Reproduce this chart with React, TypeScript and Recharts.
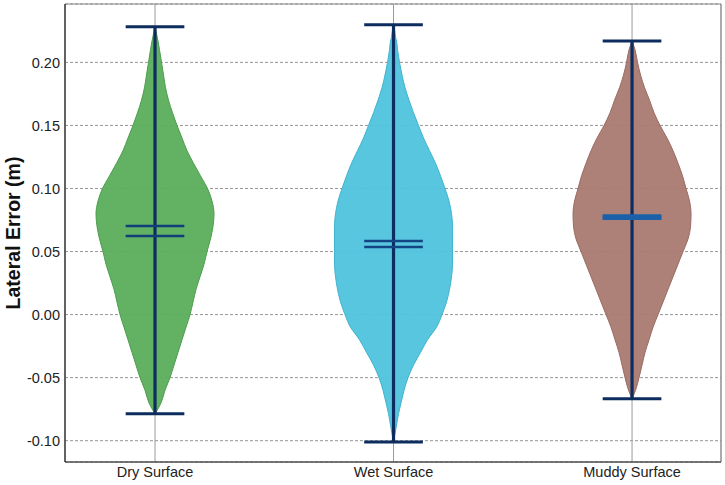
import React from 'react';
import {
  ComposedChart,
  Area,
  XAxis,
  YAxis,
  CartesianGrid,
  ReferenceLine,
  ReferenceArea,
  Label,
} from 'recharts';

// ---- data ----
const categories = ['Dry Surface', 'Wet Surface', 'Muddy Surface'];
const positions = [1, 2, 3];
const yTicks = [-0.1, -0.05, 0, 0.05, 0.1, 0.15, 0.2];

// values at which the violin densities were read
const valueGrid = [
  -0.101, -0.09, -0.0786, -0.07, -0.0667, -0.06, -0.05, -0.04, -0.03, -0.02, -0.01,
  0.0, 0.01, 0.02, 0.03, 0.04, 0.05, 0.06, 0.07, 0.08, 0.09, 0.1, 0.11, 0.12, 0.13,
  0.14, 0.15, 0.16, 0.17, 0.18, 0.19, 0.2, 0.21, 0.217, 0.22, 0.2283, 0.2299,
];

// relative kernel density (half widths), null = outside data range
const dryDensity = [
  null, null, 0, 6, 7.5, 10, 15, 19, 23, 27, 31,
  35, 38, 41, 45, 49, 52, 55.5, 58, 59, 57, 52.5, 45.5, 38.5, 32,
  27, 22, 17.5, 13.5, 10.5, 8.5, 6.5, 4.5, 3, 2.2, 0, null,
];
const wetDensity = [
  0, 2.5, 5, 7.5, 8.5, 10.5, 14.5, 20, 27, 34, 43,
  48.5, 53, 56, 58, 59, 59, 59, 59, 58, 55.5, 51.5, 47, 42, 36,
  30, 25, 20, 15.5, 11.5, 8.5, 6, 4, 3, 2, 0.6, 0,
];
const muddyDensity = [
  null, null, null, null, 0, 3.5, 7, 10, 13, 17, 21,
  26, 31, 36, 41, 46, 51, 56, 58.5, 59, 57.5, 54, 50.5, 46, 41,
  35, 28, 22, 17.5, 12.5, 8.5, 5.5, 3, 0, null, null, null,
];

const mins = [-0.0786, -0.101, -0.0667];
const maxs = [0.2283, 0.2299, 0.217];
const means = [0.0703, 0.0584, 0.0775];
const medians = [0.0623, 0.0536, 0.0769];

// ---- styles ----
const X_DOMAIN: [number, number] = [0.6226, 3.373];
const Y_DOMAIN: [number, number] = [-0.1169, 0.2463];
const WIDTH_SCALE = 1 / 238.5;
const CAP_HALF = 0.123;
const fills = ['#5bae5b', '#4fc3dd', '#a97a71'];
const edges = ['#4b9d4b', '#40b3cd', '#9a6b63'];
const LINE = '#0c2d5e';
const STAT_COLORS = ['#123f7c', '#124682', '#1b60a8'];
const STAT_WIDTHS = [2.6, 2.6, 5];

const densities = [dryDensity, wetDensity, muddyDensity];
const keys = ['dry', 'wet', 'muddy'];

const violinData = densities.map((d, k) =>
  valueGrid
    .map((v, i) => ({ v, w: d[i] }))
    .filter((r) => r.w != null)
    .map((r) => ({
      v: r.v,
      [keys[k]]: [
        positions[k] - (r.w as number) * WIDTH_SCALE,
        positions[k] + (r.w as number) * WIDTH_SCALE,
      ],
    }))
);

export default function App() {
  return (
    <div
      style={{
        position: 'absolute',
        left: 0,
        top: 0,
        width: 725,
        height: 485,
        background: '#fff',
        fontFamily: '"Liberation Sans", Arial, Helvetica, sans-serif',
      }}
    >
      <ComposedChart
        width={725}
        height={485}
        layout="vertical"
        margin={{ top: 4, right: 4, bottom: 0, left: 0 }}
      >
        <CartesianGrid
          horizontal={true}
          vertical={false}
          stroke="#8a8a8a"
          strokeDasharray="3 2"
          strokeWidth={0.9}
        />
        <CartesianGrid horizontal={false} vertical={true} stroke="#9a9a9a" strokeWidth={1} />
        <XAxis
          type="number"
          domain={X_DOMAIN}
          allowDataOverflow
          ticks={positions}
          tickFormatter={(v: number) => categories[positions.indexOf(v)] ?? ''}
          tickLine={false}
          tickSize={0}
          tickMargin={5}
          height={23}
          axisLine={{ stroke: '#333', strokeWidth: 1.2 }}
          tick={{ fontSize: 14.5, fill: '#222' }}
          interval={0}
        />
        <YAxis
          type="number"
          dataKey="v"
          domain={Y_DOMAIN}
          allowDataOverflow
          reversed
          ticks={yTicks}
          tickFormatter={(v: number) => v.toFixed(2)}
          tickLine={false}
          tickSize={0}
          tickMargin={5}
          width={65}
          axisLine={{ stroke: '#333', strokeWidth: 1.2 }}
          tick={{ fontSize: 14.5, fill: '#222' }}
          interval={0}
        >
          <Label
            value="Lateral Error (m)"
            angle={-90}
            position="center"
            dx={-19.5}
            style={{ fontSize: 19.5, fontWeight: 'bold', fill: '#111' }}
          />
        </YAxis>
        <ReferenceArea
          x1={X_DOMAIN[0]}
          x2={X_DOMAIN[1]}
          y1={Y_DOMAIN[0]}
          y2={Y_DOMAIN[1]}
          fill="none"
          stroke="#888"
          strokeWidth={1}
          ifOverflow="visible"
        />
        {keys.map((k, i) => (
          <Area
            key={k}
            data={violinData[i]}
            dataKey={k}
            type="monotone"
            fill={fills[i]}
            fillOpacity={0.95}
            stroke={edges[i]}
            strokeWidth={1}
            isAnimationActive={false}
            dot={false}
            activeDot={false}
          />
        ))}
        {positions.map((p, i) => (
          <ReferenceLine
            key={'c' + i}
            segment={[
              { x: p, y: mins[i] },
              { x: p, y: maxs[i] },
            ]}
            stroke={LINE}
            strokeWidth={3.2}
            ifOverflow="visible"
          />
        ))}
        {positions.map((p, i) => (
          <ReferenceLine
            key={'max' + i}
            segment={[
              { x: p - CAP_HALF, y: maxs[i] },
              { x: p + CAP_HALF, y: maxs[i] },
            ]}
            stroke={LINE}
            strokeWidth={3}
            ifOverflow="visible"
          />
        ))}
        {positions.map((p, i) => (
          <ReferenceLine
            key={'min' + i}
            segment={[
              { x: p - CAP_HALF, y: mins[i] },
              { x: p + CAP_HALF, y: mins[i] },
            ]}
            stroke={LINE}
            strokeWidth={3}
            ifOverflow="visible"
          />
        ))}
        {positions.map((p, i) => (
          <ReferenceLine
            key={'med' + i}
            segment={[
              { x: p - CAP_HALF, y: medians[i] },
              { x: p + CAP_HALF, y: medians[i] },
            ]}
            stroke={STAT_COLORS[i]}
            strokeWidth={STAT_WIDTHS[i]}
            ifOverflow="visible"
          />
        ))}
        {positions.map((p, i) => (
          <ReferenceLine
            key={'mean' + i}
            segment={[
              { x: p - CAP_HALF, y: means[i] },
              { x: p + CAP_HALF, y: means[i] },
            ]}
            stroke={STAT_COLORS[i]}
            strokeWidth={STAT_WIDTHS[i]}
            ifOverflow="visible"
          />
        ))}
      </ComposedChart>
    </div>
  );
}
